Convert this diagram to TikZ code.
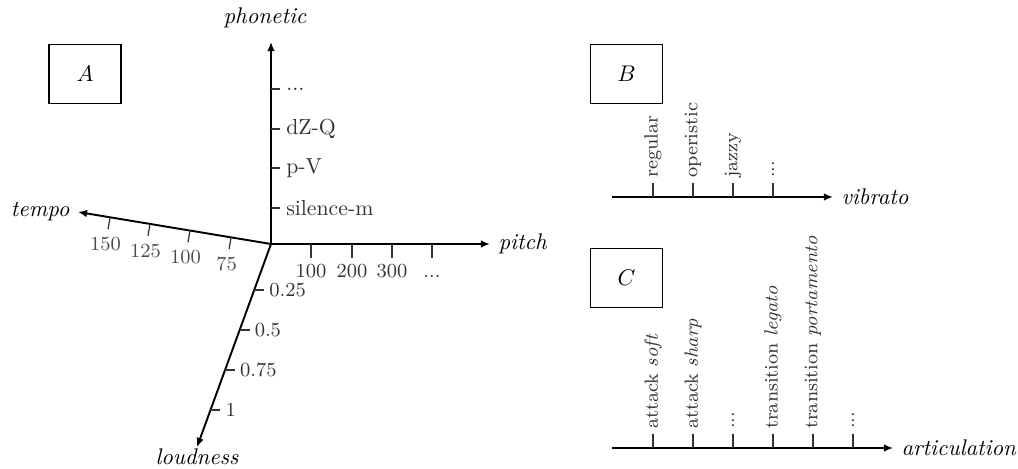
\documentclass[tikz,border=0pt]{standalone}
\usepackage{amsmath}
\usepackage{tikz}
\usetikzlibrary{arrows.meta, positioning, calc}

\begin{document}
\begin{tikzpicture}[
    x=0.0155cm, y=0.0155cm,
    axis/.style   = {-{Latex[length=4pt,width=3.4pt]}, line width=0.85pt, color=black},
    tick/.style   = {line width=0.55pt, color=black!80},
    ticklab/.style= {font=\fontsize{8.8}{10}\selectfont\color{black!70}, inner sep=2pt},
    phonlab/.style= {ticklab, font=\fontsize{9.6}{11}\selectfont\color{black!70}},
    pitchlab/.style={ticklab, text height=1.5ex, text depth=0.25ex},
    vlab/.style   = {ticklab, font=\fontsize{8.4}{10}\selectfont\color{black!70},
                     rotate=90, anchor=west},
    axlab/.style  = {font=\itshape},
    panel/.style  = {rectangle, draw=black, line width=0.6pt, minimum width=72*0.0155cm,
                     minimum height=59*0.0155cm, inner sep=0pt},
  ]
    \useasboundingbox (0,0) rectangle (1018,469);

    % ── Panel boxes ──────────────────────────────────────────
    \node[panel] (boxA) at (85, 395)    {$A$};
    \node[panel] (boxB) at (626.5, 395) {$B$};
    \node[panel] (boxC) at (626.5, 191) {$C$};

    % ── A: four axes from one origin ─────────────────────────
    \coordinate (o)   at (271, 225);
    \coordinate (phn) at (271, 427);
    \coordinate (pit) at (490, 225);
    \coordinate (tmp) at (78, 257);
    \coordinate (ldn) at (197, 22);
    \draw[axis] (o) -- (phn);
    \draw[axis] (o) -- (pit) node[axlab, right] (pitlab) {pitch};
    \draw[axis] (o) -- (tmp) node[axlab, left] (tmplab) {tempo};
    \draw[axis] (o) -- (ldn);
    \node[axlab] (phnlab) at (265, 451) {phonetic};
    \node[axlab] (ldnlab) at (197, 12)  {loudness};

    % ── phonetic ticks ───────────────────────────────────────
    \draw[tick] (271, 261) -- ++(9,0) node[phonlab, right=0.5pt] (ph1) {silence-m};
    \draw[tick] (271, 301) -- ++(9,0) node[phonlab, right=0.5pt] (ph2) {p-V};
    \draw[tick] (271, 340) -- ++(9,0) node[phonlab, right=0.5pt] (ph3) {dZ-Q};
    \draw[tick] (271, 380) -- ++(9,0) node[phonlab, right=0.5pt] (ph4) {...};

    % ── pitch ticks ──────────────────────────────────────────
    \draw[tick] (311, 225) -- ++(0,-14) node[pitchlab, below] (pi1) {100};
    \draw[tick] (352, 225) -- ++(0,-14) node[pitchlab, below] (pi2) {200};
    \draw[tick] (392, 225) -- ++(0,-14) node[pitchlab, below] (pi3) {300};
    \draw[tick] (432, 225) -- ++(0,-14) node[pitchlab, below] (pi4) {...};

    % ── tempo ticks ──────────────────────────────────────────
    \coordinate (te1) at ($(o)!0.207!(tmp)$);
    \coordinate (te2) at ($(o)!0.420!(tmp)$);
    \coordinate (te3) at ($(o)!0.627!(tmp)$);
    \coordinate (te4) at ($(o)!0.834!(tmp)$);
    \draw[tick] (te1) -- ($(te1)!0.186cm!90:(tmp)$);
    \draw[tick] (te2) -- ($(te2)!0.186cm!90:(tmp)$);
    \draw[tick] (te3) -- ($(te3)!0.186cm!90:(tmp)$);
    \draw[tick] (te4) -- ($(te4)!0.186cm!90:(tmp)$);
    \node[ticklab] (tl1) at ($(te1)!0.42cm!90:(tmp)$) {75};
    \node[ticklab] (tl2) at ($(te2)!0.42cm!90:(tmp)$) {100};
    \node[ticklab] (tl3) at ($(te3)!0.42cm!90:(tmp)$) {125};
    \node[ticklab] (tl4) at ($(te4)!0.42cm!90:(tmp)$) {150};

    % ── loudness ticks ───────────────────────────────────────
    \coordinate (lo1) at ($(o)!0.227!(ldn)$);
    \coordinate (lo2) at ($(o)!0.424!(ldn)$);
    \coordinate (lo3) at ($(o)!0.621!(ldn)$);
    \coordinate (lo4) at ($(o)!0.818!(ldn)$);
    \draw[tick] (lo1) -- ++(10,0) node[ticklab, right=0pt] (ll1) {0.25};
    \draw[tick] (lo2) -- ++(10,0) node[ticklab, right=0pt] (ll2) {0.5};
    \draw[tick] (lo3) -- ++(10,0) node[ticklab, right=0pt] (ll3) {0.75};
    \draw[tick] (lo4) -- ++(10,0) node[ticklab, right=0pt] (ll4) {1};

    % ── B: vibrato ───────────────────────────────────────────
    \coordinate (vib0) at (612, 272);
    \coordinate (vib)  at (833, 272);
    \draw[axis] (vib0) -- (vib) node[axlab, right] (viblab) {vibrato};
    \draw[tick] (653, 272) -- ++(0,14) node[vlab] (vb1) {regular};
    \draw[tick] (693, 272) -- ++(0,14) node[vlab] (vb2) {operistic};
    \draw[tick] (733, 272) -- ++(0,14) node[vlab] (vb3) {jazzy};
    \draw[tick] (773, 272) -- ++(0,14) node[vlab] (vb4) {...};

    % ── C: articulation ──────────────────────────────────────
    \coordinate (art0) at (612, 21);
    \coordinate (art)  at (893, 21);
    \draw[axis] (art0) -- (art) node[axlab, right] (artlab) {articulation};
    \draw[tick] (653, 21) -- ++(0,14) node[vlab] (ar1) {attack \textit{soft}};
    \draw[tick] (693, 21) -- ++(0,14) node[vlab] (ar2) {attack \textit{sharp}};
    \draw[tick] (733, 21) -- ++(0,14) node[vlab] (ar3) {...};
    \draw[tick] (773, 21) -- ++(0,14) node[vlab] (ar4) {transition \textit{legato}};
    \draw[tick] (813, 21) -- ++(0,14) node[vlab] (ar5) {transition \textit{portamento}};
    \draw[tick] (853, 21) -- ++(0,14) node[vlab] (ar6) {...};

  \end{tikzpicture}
\end{document}
